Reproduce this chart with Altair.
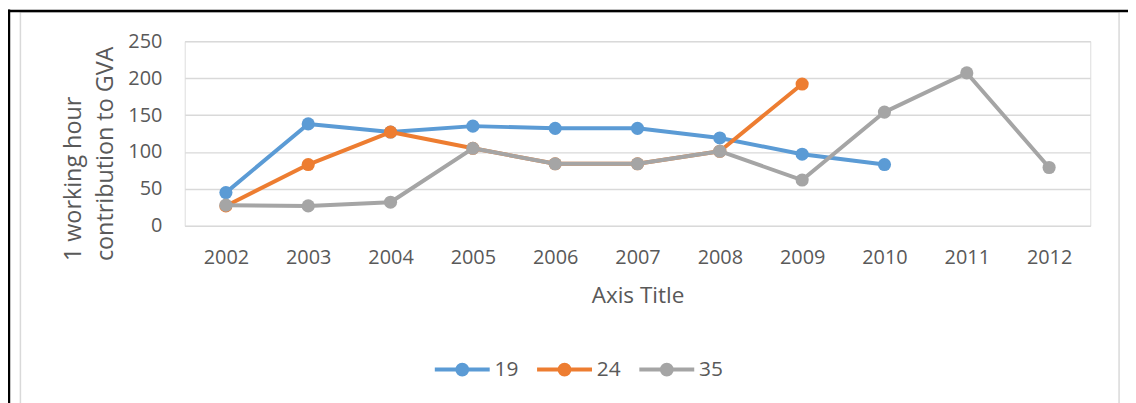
import altair as alt
import pandas as pd

years = ["2002", "2003", "2004", "2005", "2006", "2007", "2008", "2009", "2010", "2011", "2012"]
series_names = ["19", "24", "35"]
s19 = [45, 138, 127, 135, 132, 132, 119, 97, 83, None, None]
s24 = [27, 83, 127, 105, 84, 84, 101, 192, None, None, None]
s35 = [28, 27, 32, 105, 84, 84, 101, 62, 154, 207, 79]
colors = ["#5B9BD5", "#ED7D31", "#A5A5A5"]
y_ticks = [0, 50, 100, 150, 200, 250]

rows = []
for name, vals in zip(series_names, [s19, s24, s35]):
    for yr, v in zip(years, vals):
        if v is not None:
            rows.append({"year": yr, "series": name, "value": v})
df = pd.DataFrame(rows)

FONT = "Open Sans"
TXT = "#595959"
GRID = "#D9D9D9"

# legend symbol: line with filled circle (drawn by stroke only)
legend_path = ("M-3.95,0L3.95,0"
               "M-0.214,0A0.214,0.214,0,1,1,0.214,0A0.214,0.214,0,1,1,-0.214,0"
               "M-0.714,0A0.714,0.714,0,1,1,0.714,0A0.714,0.714,0,1,1,-0.714,0")

color = alt.Color(
    "series:N",
    scale=alt.Scale(domain=series_names, range=colors),
    legend=alt.Legend(
        title=None, orient="none", direction="horizontal",
        legendX=269, legendY=320, padding=0,
        symbolType=legend_path, symbolSize=196, symbolStrokeWidth=4,
        labelOffset=22, columnPadding=9,
        labelFont=FONT, labelFontSize=21, labelColor=TXT,
    ),
)

x = alt.X(
    "year:O", sort=years,
    scale=alt.Scale(type="point", padding=0.5, domain=years),
    axis=alt.Axis(
        title="Axis Title", titleFont=FONT, titleFontSize=22.7, titleColor=TXT,
        titleFontWeight="normal", titleBaseline="top", titleY=59,
        labelFont=FONT, labelFontSize=20, labelColor=TXT, labelAngle=0,
        labelBaseline="top", labelPadding=22, ticks=False, domain=False, grid=False,
    ),
)
y = alt.Y(
    "value:Q",
    scale=alt.Scale(domain=[0, 250], nice=False, zero=True),
    axis=alt.Axis(
        title=["1 working hour", "contribution to GVA"], titleFont=FONT, titleFontSize=23.5,
        titleColor=TXT, titleFontWeight="normal", titleAngle=270, titleAlign="left",
        titleBaseline="alphabetic", titleX=-105, titleY=221, titleLineHeight=32,
        values=y_ticks, labelFont=FONT, labelFontSize=20, labelColor=TXT,
        labelPadding=23, ticks=False, domain=False, grid=True, gridColor=GRID, gridWidth=1.5,
    ),
)

layers = []
for name in series_names:
    layers.append(
        alt.Chart(df)
        .transform_filter(alt.datum.series == name)
        .mark_line(strokeWidth=4, strokeCap="round", strokeJoin="round",
                   point=alt.OverlayMarkDef(filled=True, size=175, opacity=1))
        .encode(x=x, y=y, color=color)
    )

frame_df = pd.DataFrame({"k": [0]})
frame = alt.Chart(frame_df).mark_rect(fill=None, stroke=GRID, strokeWidth=1.5).encode(
    x=alt.value(12.5 - 178), x2=alt.value(1119 - 178),
    y=alt.value(2.5 - 32), y2=alt.value(600),
)
top_line = alt.Chart(frame_df).mark_rule(color="black", strokeWidth=2.5).encode(
    x=alt.value(-178), x2=alt.value(1128 - 178), y=alt.value(1.5 - 32),
)
left_line = alt.Chart(frame_df).mark_rule(color="black", strokeWidth=2.5).encode(
    x=alt.value(1 - 178), y=alt.value(0 - 32), y2=alt.value(600),
)

chart = alt.layer(frame, top_line, left_line, *layers).properties(
    width=912, height=186,
    padding={"left": 178, "top": 32, "right": 38, "bottom": 177},
    autosize=alt.AutoSizeParams(type="none"),
).configure_view(stroke=None).configure(background="white")

chart.save("out.html", embed_options={"renderer": "svg", "actions": False})
